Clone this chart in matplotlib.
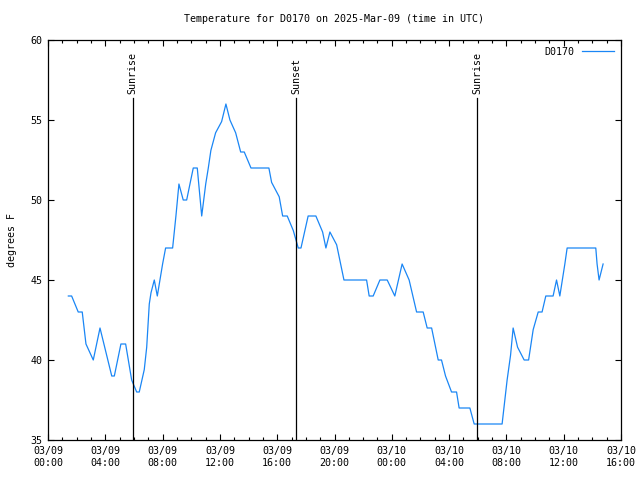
"""
Temperature for D0170, gnuplot-style line chart
"""

import numpy as np
import pandas as pd
import matplotlib
matplotlib.use('Agg')
import matplotlib.pyplot as plt
import matplotlib.dates as mdates

# hours since 2025-03-09 00:00 UTC, and temperature in F
hours = [1.42, 1.65, 2.11, 2.39, 2.65, 3.16, 3.63, 4.45, 4.63, 5.09,
         5.42, 5.84, 6.19, 6.37, 6.72, 6.89, 7.07, 7.19, 7.42, 7.63,
         8.00, 8.21, 8.70, 8.93, 9.14, 9.44, 9.68, 10.14, 10.42, 10.73,
         11.01, 11.19, 11.37, 11.70, 12.12, 12.42, 12.70, 13.10, 13.45, 13.70,
         14.17, 15.42, 15.61, 16.14, 16.38, 16.70, 17.12, 17.47, 17.66, 18.16,
         18.70, 19.17, 19.40, 19.68, 20.15, 20.66, 22.24, 22.42, 22.70, 23.17,
         23.68, 24.21, 24.72, 25.21, 25.73, 26.19, 26.47, 26.78, 27.24, 27.47,
         27.75, 28.17, 28.52, 28.70, 29.45, 29.75, 31.70, 32.05, 32.29, 32.47,
         32.78, 33.24, 33.55, 33.87, 34.22, 34.49, 34.75, 35.26, 35.50, 35.73,
         36.08, 36.24, 38.24, 38.33, 38.47, 38.75]
temps = [44, 44, 43, 43, 41, 40, 42, 39, 39, 41,
         41, 38.75, 38, 38, 39.4, 40.8, 43.5, 44.2, 45, 44,
         46, 47, 47, 49, 51, 50, 50, 52, 52, 49,
         51, 52, 53.1, 54.2, 54.9, 56, 55, 54.2, 53, 53,
         52, 52, 51.1, 50.2, 49, 49, 48.1, 47, 47, 49,
         49, 48, 47, 48, 47.2, 45, 45, 44, 44, 45,
         45, 44, 46, 45, 43, 43, 42, 42, 40, 40,
         39, 38, 38, 37, 37, 36, 36, 38.75, 40.3, 42,
         40.8, 40, 40, 41.9, 43, 43, 44, 44, 45, 44,
         46, 47, 47, 46, 45, 46]

# sun events, hours since start
event_hours = [5.90, 17.33, 29.97]
event_labels = ['Sunrise', 'Sunset', 'Sunrise']

START = pd.Timestamp('2025-03-09 00:00')
times = START + pd.to_timedelta(hours, unit='h')
event_times = START + pd.to_timedelta(event_hours, unit='h')

plt.rcParams['font.family'] = ['DejaVu Sans Mono']
FS = 7.2

fig = plt.figure(figsize=(6.4, 4.8), dpi=100)
ax = fig.add_axes([48 / 640, 40 / 480, 573 / 640, 400 / 480])

ax.plot(times, temps, color='#1a86f5', linewidth=0.9, label='D0170')

for t, lab in zip(event_times, event_labels):
    ax.plot([t, t], [0, 0.855], color='black', linewidth=0.9,
            transform=ax.get_xaxis_transform())
    ax.text(t, 0.865, lab, rotation=90, ha='center', va='bottom',
            fontsize=FS, transform=ax.get_xaxis_transform())

ax.set_xlim(START, START + pd.Timedelta(hours=40))
ax.set_ylim(35, 60)
ax.set_yticks(np.arange(35, 61, 5))

ax.xaxis.set_major_locator(mdates.HourLocator(byhour=range(0, 24, 4)))
ax.xaxis.set_minor_locator(mdates.HourLocator())
ax.xaxis.set_major_formatter(mdates.DateFormatter('%m/%d\n%H:%M'))

ax.tick_params(which='both', direction='in', top=True, right=True,
               labelsize=FS, width=0.8)
ax.tick_params(which='major', length=4.5, pad=4)
ax.tick_params(which='minor', length=2.3)
for lab in ax.get_xticklabels():
    lab.set_linespacing(1.35)
for sp in ax.spines.values():
    sp.set_linewidth(0.9)

ax.set_title('Temperature for D0170 on 2025-Mar-09 (time in UTC)',
             fontsize=FS, pad=13)
ax.set_ylabel('degrees F', fontsize=FS, labelpad=10)

ax.legend(loc='upper right', frameon=False, fontsize=FS, markerfirst=False,
          handlelength=3.2, handletextpad=0.8, borderaxespad=0.3)

fig.savefig('out.png', dpi=100)
